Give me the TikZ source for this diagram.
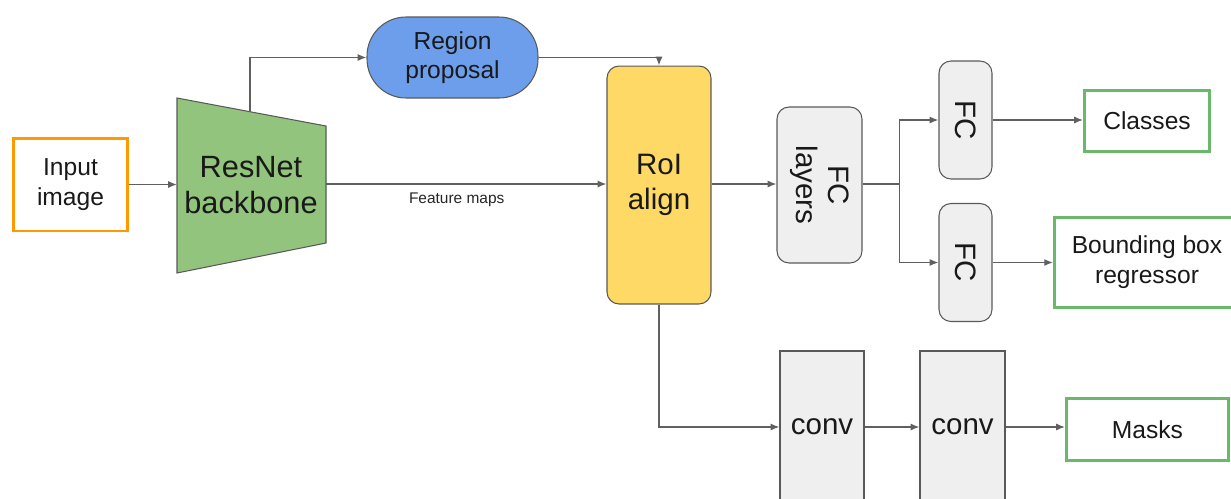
\documentclass[tikz,border=0pt]{standalone}
\usepackage{fontspec}
\setmainfont{Liberation Sans}
\usepackage{graphicx}
\usetikzlibrary{arrows.meta,calc}

\definecolor{inorange}{HTML}{FF9900}
\definecolor{netgreen}{HTML}{93C47D}
\definecolor{propblue}{HTML}{6D9EEB}
\definecolor{roiyellow}{HTML}{FFD966}
\definecolor{layergray}{HTML}{EFEFEF}
\definecolor{outgreen}{RGB}{106,184,106}
\definecolor{edgegray}{HTML}{595959}
\definecolor{linegray}{HTML}{606060}

\begin{document}
\begin{tikzpicture}[x=0.02cm,y=-0.02cm,
		conn/.style={draw=linegray,line width=0.8pt,-{Latex[length=5pt,width=4pt]}},
		block/.style={draw=edgegray,line width=0.6pt,align=center,text=black!90},
		outbox/.style={draw=outgreen,line width=1.7pt,align=center,text=black!90,font=\fontsize{14}{17}\selectfont},
		bigtxt/.style={font=\fontsize{16.8}{20}\selectfont}]
				\useasboundingbox (0,0) rectangle (1231,498);
				% input and backbone
				\node[draw=inorange,line width=1.7pt,align=center,text=black!90,font=\fontsize{14}{17}\selectfont,minimum width=2.28cm,minimum height=1.86cm] (input) at (70.5,184.5) {Input\\image};
				\draw[edgegray,line width=0.6pt,fill=netgreen] (177,98) -- (326,126) -- (326,243) -- (177,273) -- cycle;
				\node[align=center,text=black!90,font=\fontsize{17.5}{20.5}\selectfont] (resnet) at (251,185) {ResNet\\backbone};
				\coordinate (rn-in) at (177,184); \coordinate (rn-top) at (250,111.7); \coordinate (rn-out) at (326,184);
				\node[block,fill=propblue,rounded corners=0.78cm,minimum width=3.42cm,minimum height=1.62cm,font=\fontsize{14}{16.5}\selectfont] (region) at (452.5,57.5) {Region\\proposal};
				\node[block,bigtxt,fill=roiyellow,rounded corners=0.24cm,minimum width=2.08cm,minimum height=4.76cm] (roi) at (659,185) {RoI\\align};
				% heads
				\node[block,bigtxt,fill=layergray,rounded corners=0.24cm,minimum width=1.7cm,minimum height=3.12cm] (fcl) at (819.5,185) {\rotatebox{-90}{\begin{tabular}{@{}c@{}}FC\\[-2pt]layers\end{tabular}}};
				\node[block,bigtxt,fill=layergray,rounded corners=0.24cm,minimum width=1.06cm,minimum height=2.36cm] (fc1) at (965.5,120) {\rotatebox{-90}{FC}};
				\node[block,bigtxt,fill=layergray,rounded corners=0.24cm,minimum width=1.06cm,minimum height=2.36cm] (fc2) at (965.5,262.5) {\rotatebox{-90}{FC}};
				\node[outbox,minimum width=2.5cm,minimum height=1.22cm] (classes) at (1147,121) {Classes};
				\node[outbox,minimum width=3.7cm,minimum height=1.8cm] (bbox) at (1147,262.5) {Bounding box\\regressor};
				\node[block,bigtxt,fill=layergray,minimum width=1.68cm,minimum height=3.04cm] (conv1) at (822,427) {conv};
				\node[block,bigtxt,fill=layergray,minimum width=1.7cm,minimum height=3.04cm] (conv2) at (962.5,427) {conv};
				\node[outbox,minimum width=3.24cm,minimum height=1.24cm] (masks) at (1147.5,429.5) {Masks};
				% connectors
				\draw[conn] (input.east) -- (input.east -| rn-in);
				\draw[conn] (rn-top) |- (region.west);
				\draw[conn] (rn-out) -- node[pos=0.466,below=1.5pt,text=black!85,font=\fontsize{8.8}{10}\selectfont] (featlbl) {Feature maps} (rn-out -| roi.west);
				\draw[conn] (region.east) -| (roi.north);
				\draw[conn] (roi.east |- rn-out) -- (rn-out -| fcl.west);
				\draw[linegray,line width=0.8pt] (rn-out -| fcl.east) -- ++(37,0) coordinate (split);
				\draw[conn] (split) |- (fc1.west);
				\draw[conn] (split) |- (fc2.west);
				\draw[conn] (fc1.east) -- (fc1.east -| classes.west);
				\draw[conn] (fc2.east) -- (fc2.east -| bbox.west);
				\draw[conn] (roi.south) |- (conv1.west);
				\draw[conn] (conv1.east) -- (conv2.west);
				\draw[conn] (conv2.east) -- (conv2.east -| masks.west);
			\end{tikzpicture}
\end{document}
